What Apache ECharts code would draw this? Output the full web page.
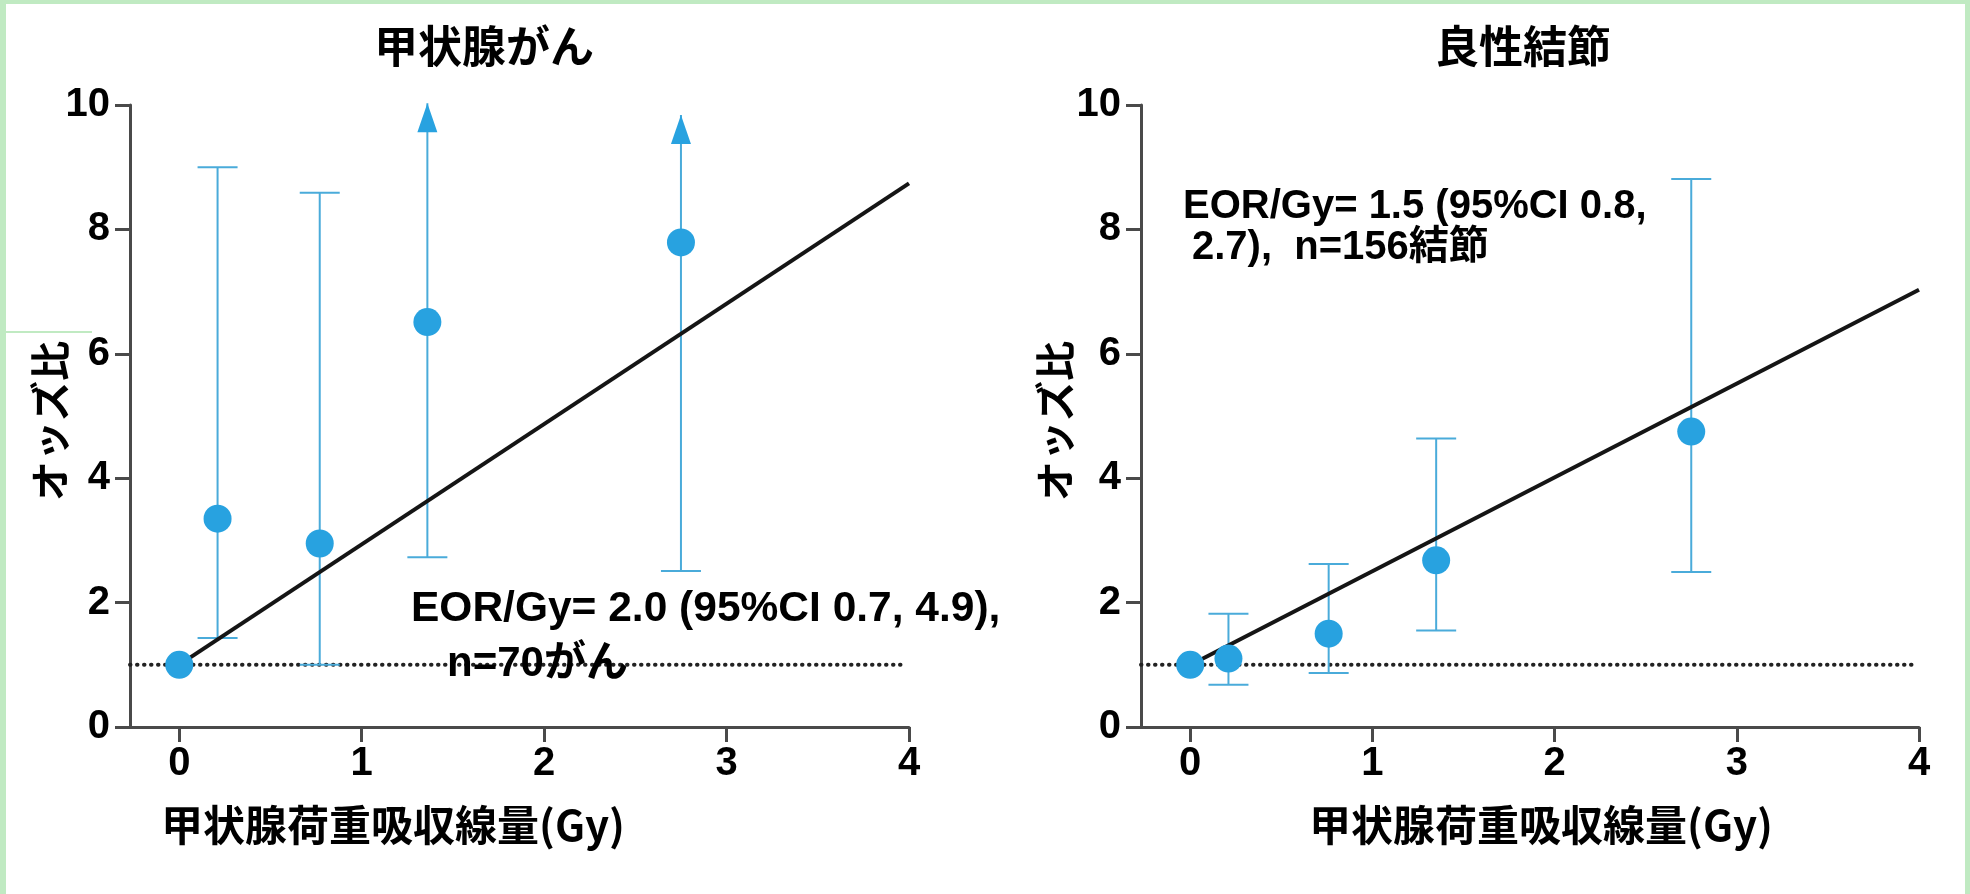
<!DOCTYPE html>
<html>
<head>
<meta charset="utf-8">
<title>甲状腺がん・良性結節 オッズ比</title>
<script src="https://cdn.jsdelivr.net/npm/echarts@6/dist/echarts.min.js"></script>
<style>
  html, body { margin: 0; padding: 0; background: #fff; }
  #main { width: 1970px; height: 894px; }
</style>
</head>
<body>
<div id="main"></div>
<script>
// 甲状腺がん
var cancerDose  = [0, 0.21, 0.77, 1.36, 2.75];
var cancerOR    = [1.0, 3.35, 2.95, 6.51, 7.79];
var cancerLow   = [null, 1.43, 1.0, 2.73, 2.51];
var cancerHigh  = [null, 9.0, 8.59, 10.03, 9.84];
var cancerArrow = [0, 0, 0, 1, 1];   // 上限が軸外 → 矢印
var cancerFitDose = [0.03, 4];
var cancerFitOR   = [1.06, 8.74];

// 良性結節
var noduleDose  = [0, 0.21, 0.76, 1.35, 2.75];
var noduleOR    = [1.0, 1.1, 1.5, 2.68, 4.75];
var noduleLow   = [null, 0.68, 0.87, 1.55, 2.49];
var noduleHigh  = [null, 1.82, 2.62, 4.64, 8.81];
var noduleArrow = [0, 0, 0, 0, 0];
var noduleFitDose = [0.03, 4];
var noduleFitOR   = [1.04, 7.03];

// 参照線 (OR = 1)
var refDose = [-0.27, 3.97];
var refOR   = [1, 1];

var xTicks = [0, 1, 2, 3, 4];

var myChart = echarts.init(document.getElementById('main'));

var axisColor = '#4a4a4a';
var pointColor = '#28a2e0';
var barColor = '#4aabda';
var latin = 'Liberation Sans, Arial, sans-serif';
var jp = 'Noto Sans CJK JP, sans-serif';
var mixed = 'Liberation Sans, Noto Sans CJK JP, sans-serif';

function pairs(xs, ys) {
    var out = [];
    for (var i = 0; i < xs.length; i++) out.push([xs[i], ys[i]]);
    return out;
}
function bars(xs, lo, hi, arrow) {
    var out = [];
    for (var i = 0; i < xs.length; i++) {
        if (lo[i] == null) continue;
        out.push([xs[i], lo[i], hi[i], arrow[i]]);
    }
    return out;
}

function renderBar(params, api) {
    var x = api.value(0);
    var pLo = api.coord([x, api.value(1)]);
    var pHi = api.coord([x, api.value(2)]);
    var cap = 20;
    var st = { stroke: barColor, lineWidth: 2, fill: null };
    var kids = [
        { type: 'line', shape: { x1: pLo[0], y1: pLo[1], x2: pHi[0], y2: pHi[1] }, style: st },
        { type: 'line', shape: { x1: pLo[0] - cap, y1: pLo[1], x2: pLo[0] + cap, y2: pLo[1] }, style: st }
    ];
    if (api.value(3)) {
        kids.push({
            type: 'polygon',
            shape: { points: [[pHi[0], pHi[1]], [pHi[0] - 10, pHi[1] + 29], [pHi[0] + 10, pHi[1] + 29]] },
            style: { fill: pointColor }
        });
    } else {
        kids.push({ type: 'line', shape: { x1: pHi[0] - cap, y1: pHi[1], x2: pHi[0] + cap, y2: pHi[1] }, style: st });
    }
    return { type: 'group', children: kids };
}

function xAxisOf(idx) {
    return {
        type: 'value', gridIndex: idx, min: -0.27, max: 4,
        axisLine: { show: true, onZero: false, lineStyle: { color: axisColor, width: 3 } },
        axisTick: { show: true, length: 15, customValues: xTicks, lineStyle: { color: axisColor, width: 3 } },
        axisLabel: { customValues: xTicks, margin: 17, color: '#000', fontSize: 40, fontWeight: 'bold', fontFamily: latin },
        splitLine: { show: false }
    };
}
function yAxisOf(idx) {
    return {
        type: 'value', gridIndex: idx, min: 0, max: 10, interval: 2,
        axisLine: { show: true, onZero: false, lineStyle: { color: axisColor, width: 3 } },
        axisTick: { show: true, length: 15, lineStyle: { color: axisColor, width: 3 } },
        axisLabel: { margin: 20, color: '#000', fontSize: 40, fontWeight: 'bold', fontFamily: latin },
        splitLine: { show: false }
    };
}

function seriesOf(idx, dose, or, lo, hi, arrow, fitX, fitY) {
    return [
        {
            type: 'line', xAxisIndex: idx, yAxisIndex: idx,
            data: pairs(refDose, refOR), showSymbol: false, silent: true,
            lineStyle: { color: '#222', width: 4, type: [0.5, 6.5], cap: 'round' }, z: 1
        },
        {
            type: 'custom', xAxisIndex: idx, yAxisIndex: idx,
            data: bars(dose, lo, hi, arrow), renderItem: renderBar,
            encode: { x: 0, y: [1, 2] }, z: 2
        },
        {
            type: 'line', xAxisIndex: idx, yAxisIndex: idx,
            data: pairs(fitX, fitY), showSymbol: false,
            lineStyle: { color: '#151515', width: 4 }, z: 3
        },
        {
            type: 'scatter', xAxisIndex: idx, yAxisIndex: idx,
            data: pairs(dose, or), symbolSize: 28,
            itemStyle: { color: pointColor, opacity: 1 }, z: 4
        }
    ];
}

function txt(x, y, text, size, family, extra) {
    var s = { text: text, fill: '#000', font: 'bold ' + size + 'px ' + family, textAlign: 'left', textVerticalAlign: 'middle' };
    for (var k in extra) s[k] = extra[k];
    return { type: 'text', x: x, y: y, style: s, z: 10 };
}

var green = '#c0eac2';

myChart.setOption({
    animation: false,
    backgroundColor: '#fff',
    grid: [
        { left: 130, top: 105, width: 779, height: 622 },
        { left: 1141, top: 105, width: 778, height: 622 }
    ],
    xAxis: [xAxisOf(0), xAxisOf(1)],
    yAxis: [yAxisOf(0), yAxisOf(1)],
    series: [].concat(
        seriesOf(0, cancerDose, cancerOR, cancerLow, cancerHigh, cancerArrow, cancerFitDose, cancerFitOR),
        seriesOf(1, noduleDose, noduleOR, noduleLow, noduleHigh, noduleArrow, noduleFitDose, noduleFitOR)
    ),
    graphic: [
        // 枠
        { type: 'rect', shape: { x: 0, y: 0, width: 1970, height: 4 }, style: { fill: green } },
        { type: 'rect', shape: { x: 0, y: 0, width: 6, height: 894 }, style: { fill: green } },
        { type: 'rect', shape: { x: 1965, y: 0, width: 5, height: 894 }, style: { fill: green } },
        { type: 'rect', shape: { x: 0, y: 331, width: 92, height: 2 }, style: { fill: green } },
        // タイトル
        txt(484, 46, '甲状腺がん', 44, jp, { textAlign: 'center' }),
        txt(1523, 46, '良性結節', 44, jp, { textAlign: 'center' }),
        // 軸名
        txt(393, 825, '甲状腺荷重吸収線量(Gy)', 42, jp, { textAlign: 'center' }),
        txt(1541, 825, '甲状腺荷重吸収線量(Gy)', 42, jp, { textAlign: 'center' }),
        { type: 'text', x: 50, y: 421, rotation: Math.PI / 2, z: 10,
          style: { text: 'オッズ比', fill: '#000', font: 'bold 40px ' + jp, textAlign: 'center', textVerticalAlign: 'middle' } },
        { type: 'text', x: 1055, y: 421, rotation: Math.PI / 2, z: 10,
          style: { text: 'オッズ比', fill: '#000', font: 'bold 40px ' + jp, textAlign: 'center', textVerticalAlign: 'middle' } },
        // 注記
        txt(411, 609, 'EOR/Gy= 2.0 (95%CI 0.7, 4.9),', 42.5, mixed),
        txt(447, 664, 'n=70がん', 42, mixed),
        txt(1183, 207, 'EOR/Gy= 1.5 (95%CI 0.8,', 40, mixed),
        txt(1192, 248, '2.7),  n=156結節', 40, mixed)
    ]
});
</script>
</body>
</html>
